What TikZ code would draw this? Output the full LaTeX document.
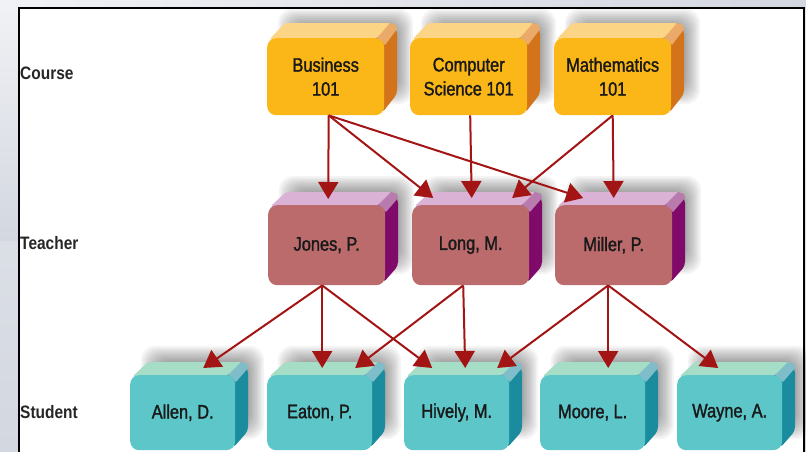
\documentclass[tikz,border=0pt]{standalone}
\usepackage{fontspec}
\setmainfont{Liberation Sans}
\newfontfamily\cond[FakeStretch=0.84,FakeBold=1.5]{Liberation Sans}
\newfontfamily\condbold[FakeStretch=0.86]{Liberation Sans}
\usetikzlibrary{arrows.meta,calc}

\definecolor{pageback}{HTML}{E4E7EC}
\definecolor{pagebackdark}{HTML}{D3D7E0}
\definecolor{pagelight}{HTML}{F1F2F5}
\definecolor{arrowred}{HTML}{A31414}
\definecolor{courseFront}{HTML}{FBB718}
\definecolor{courseTop}{HTML}{FCD486}
\definecolor{courseSide}{HTML}{D4741A}
\definecolor{courseEdge}{HTML}{EAAA6A}
\definecolor{teachFront}{HTML}{BC6B6C}
\definecolor{teachTop}{HTML}{D9B2D5}
\definecolor{teachSide}{HTML}{7F0A6A}
\definecolor{teachEdge}{HTML}{B97AAE}
\definecolor{studFront}{HTML}{5CC6C8}
\definecolor{studTop}{HTML}{A6DDC6}
\definecolor{studSide}{HTML}{1A8C9E}
\definecolor{studEdge}{HTML}{80BDCB}

\tikzset{
  rowlabel/.style={anchor=west,inner sep=0pt,font=\condbold\bfseries\fontsize{18}{20}\selectfont,text=black!85},
  faceText/.style={inner sep=0pt,align=center,text=black!90,
    font=\cond\fontsize{19.5}{24}\selectfont},
  link/.style={draw=arrowred,line width=2pt,
    -{Triangle[length=17pt,width=20pt]}},
}

% A raised block: #1 name, #2 left, #3 top, #4 width, #5 height,
% #6 colour prefix, #7 depth, #8 label
\newcommand\blockbox[8]{%
  % soft drop shadow up and to the right
  \foreach \k in {0,...,9}{%
    \fill[black,opacity=0.045,rounded corners=14pt]
      ({#2+20-9+\k*1.8},{#3-20-9+\k*1.8}) rectangle
      ({#2+#4+20+9-\k*1.8},{#3+#5-20+9-\k*1.8});
  }
  % right side face
  \fill[#6Side,rounded corners=4pt]
    ({#2+#4-8},{#3}) -- ({#2+#4+13-8},{#3-#7}) -- ({#2+#4+13},{#3-#7+7})
    -- ({#2+#4+13},{#3+#5-#7-6}) -- ({#2+#4-2},{#3+#5-2}) -- cycle;
  % top face
  \fill[#6Top,rounded corners=3pt]
    ({#2+2},{#3+2}) -- ({#2+13+5},{#3-#7}) -- ({#2+#4+13-6},{#3-#7})
    -- ({#2+#4-6},{#3}) -- cycle;
  % rounded edge between top and side
  \fill[#6Edge]
    ({#2+#4+13-7},{#3-#7}) -- ({#2+#4+13-1},{#3-#7+2}) -- ({#2+#4+13},{#3-#7+6})
    -- ({#2+#4+1},{#3+7}) -- ({#2+#4-7},{#3}) -- cycle;
  % front face
  \node[faceText,fill=#6Front,rounded corners=9pt,anchor=north west,
        minimum width=#4pt,minimum height=#5pt] (#1) at (#2,#3) {#8};
}

\begin{document}
\begin{tikzpicture}[x=1pt,y=-1pt]
\useasboundingbox (0,0) rectangle (806,451);
\clip (0,0) rectangle (806,451);

% surrounding page and white panel
\shade[top color=pageback,bottom color=pagebackdark] (0,0) rectangle (806,451);
\shade[top color=pagelight,bottom color=pagebackdark] (0,0) rectangle (19,240);
\shade[left color=pagelight,right color=pagebackdark] (0,0) rectangle (806,8);
\draw[line width=2.6pt,fill=white] (19,8) rectangle (804,470);

% row captions
\node[rowlabel] (lcourse)  at (20,73)  {Course};
\node[rowlabel] (lteacher) at (20,243) {Teacher};
\node[rowlabel] (lstudent) at (20,412) {Student};

% courses
\blockbox{bus}{267}{38}{117}{77}{course}{15}{Business\\101}
\blockbox{cs}{410}{38}{117}{77}{course}{15}{Computer\\Science 101}
\blockbox{math}{554}{38}{117}{77}{course}{15}{Mathematics\\101}

% teachers
\blockbox{jones}{268}{205}{117}{80}{teach}{13}{Jones, P.}
\blockbox{long}{412}{205}{117}{80}{teach}{13}{Long, M.}
\blockbox{miller}{555}{205}{117}{80}{teach}{13}{Miller, P.}

% students
\blockbox{allen}{130}{375}{105}{75}{stud}{13}{Allen, D.}
\blockbox{eaton}{267}{375}{105}{75}{stud}{13}{Eaton, P.}
\blockbox{hively}{404}{375}{105}{75}{stud}{13}{Hively, M.}
\blockbox{moore}{540}{375}{105}{75}{stud}{13}{Moore, L.}
\blockbox{wayne}{677}{375}{105}{75}{stud}{13}{Wayne, A.}

% course -> teacher
\draw[link] ([xshift=3pt]bus.south)  -- ([xshift=1.5pt,yshift=6pt]jones.north);
\draw[link] ([xshift=3pt]bus.south)  -- ([xshift=-37.5pt,yshift=7pt]long.north);
\draw[link] ([xshift=3pt]bus.south)  -- ([xshift=-30.5pt,yshift=7pt]miller.north);
\draw[link] ([xshift=1.5pt]cs.south) -- ([xshift=1pt,yshift=7pt]long.north);
\draw[link] (math.south) -- ([xshift=41.5pt,yshift=7pt]long.north);
\draw[link] (math.south) -- ([xshift=0pt,yshift=7pt]miller.north);

% teacher -> student
\draw[link] ([xshift=-4.5pt]jones.south) -- ([xshift=20.5pt,yshift=7pt]allen.north);
\draw[link] ([xshift=-4.5pt]jones.south) -- ([xshift=2.5pt,yshift=7pt]eaton.north);
\draw[link] ([xshift=-4.5pt]jones.south) -- ([xshift=-24.5pt,yshift=7pt]hively.north);
\draw[link] ([xshift=-7.5pt]long.south) -- ([xshift=35.5pt,yshift=7pt]eaton.north);
\draw[link] ([xshift=-7.5pt]long.south) -- ([xshift=8.5pt,yshift=7pt]hively.north);
\draw[link] ([xshift=-5.5pt]miller.south) -- ([xshift=40.5pt,yshift=7pt]hively.north);
\draw[link] ([xshift=-5.5pt]miller.south) -- ([xshift=15.5pt,yshift=7pt]moore.north);
\draw[link] ([xshift=-5.5pt]miller.south) -- ([xshift=-11.5pt,yshift=7pt]wayne.north);
\end{tikzpicture}
\end{document}
